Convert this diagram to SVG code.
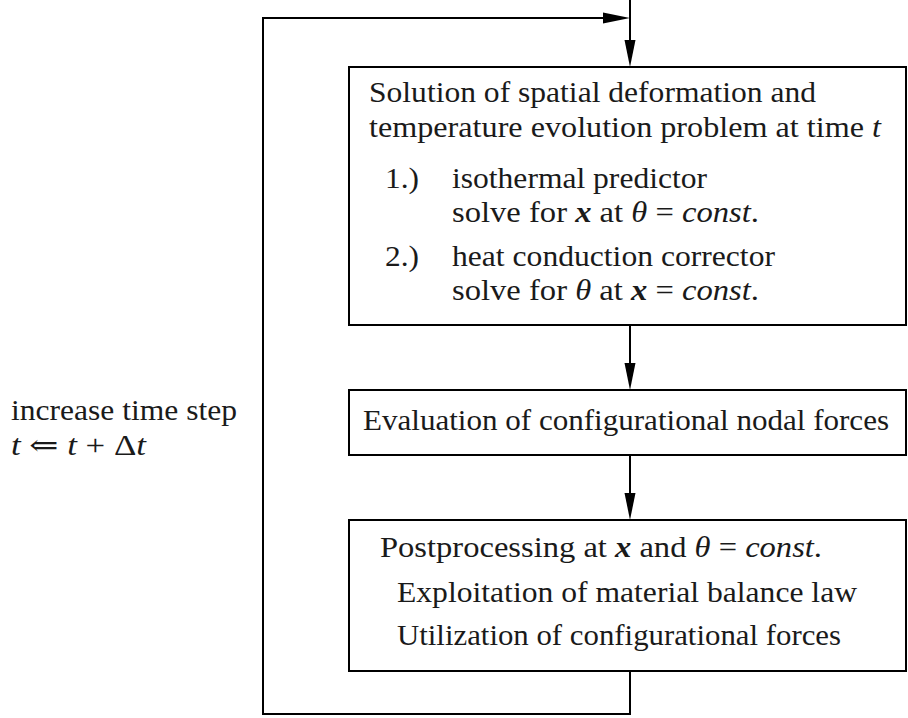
<svg xmlns="http://www.w3.org/2000/svg" width="908" height="718" viewBox="0 0 908 718">
<defs>
<style>
.box{fill:#fff;stroke:#000;stroke-width:2}
.ln{fill:none;stroke:#000;stroke-width:2}
.t{font-family:'Liberation Serif','DejaVu Serif','Noto Serif',Tinos,Times,serif;font-size:29px;fill:#1a1a1a}
.i{font-style:italic}
.b{font-style:italic;font-weight:bold}
</style>
<marker id="ah" markerUnits="userSpaceOnUse" markerWidth="28" markerHeight="12" viewBox="0 0 28 12" refX="22" refY="6" orient="auto">
<path d="M0,0.5 L27,6 L0,11.5 z" fill="#000"/>
</marker>
</defs>
<rect width="908" height="718" fill="#fff"/>
<g id="connectors">
<path class="ln" d="M630,0 V62" marker-end="url(#ah)"/>
<path class="ln" d="M630,325 V385" marker-end="url(#ah)"/>
<path class="ln" d="M630,455 V515" marker-end="url(#ah)"/>
<path class="ln" d="M630,671 V714 H263 V18 H625" marker-end="url(#ah)"/>
</g>
<g id="solve">
<rect class="box" x="349" y="67" width="557" height="258"/>
<text class="t" font-family="Liberation Serif, serif" x="369" y="102" textLength="447" lengthAdjust="spacingAndGlyphs">Solution of spatial deformation and</text>
<text class="t" font-family="Liberation Serif, serif" x="369" y="137" textLength="512" lengthAdjust="spacingAndGlyphs">temperature evolution problem at time <tspan class="i">t</tspan></text>
<text class="t" font-family="Liberation Serif, serif" x="385" y="188" textLength="34" lengthAdjust="spacingAndGlyphs">1.)</text>
<text class="t" font-family="Liberation Serif, serif" x="452" y="188" textLength="255" lengthAdjust="spacingAndGlyphs">isothermal predictor</text>
<text class="t" font-family="Liberation Serif, serif" x="452" y="222" textLength="307" lengthAdjust="spacingAndGlyphs">solve for <tspan class="b">x</tspan> at <tspan class="i">θ</tspan> = <tspan class="i">const</tspan>.</text>
<text class="t" font-family="Liberation Serif, serif" x="385" y="266" textLength="34" lengthAdjust="spacingAndGlyphs">2.)</text>
<text class="t" font-family="Liberation Serif, serif" x="452" y="266" textLength="323" lengthAdjust="spacingAndGlyphs">heat conduction corrector</text>
<text class="t" font-family="Liberation Serif, serif" x="452" y="300" textLength="307" lengthAdjust="spacingAndGlyphs">solve for <tspan class="i">θ</tspan> at <tspan class="b">x</tspan> = <tspan class="i">const</tspan>.</text>
</g>
<g id="evaluate">
<rect class="box" x="349" y="390" width="557" height="65"/>
<text class="t" font-family="Liberation Serif, serif" x="363" y="430" textLength="526" lengthAdjust="spacingAndGlyphs">Evaluation of configurational nodal forces</text>
</g>
<g id="post">
<rect class="box" x="349" y="520" width="557" height="151"/>
<text class="t" font-family="Liberation Serif, serif" x="380" y="557" textLength="442" lengthAdjust="spacingAndGlyphs">Postprocessing at <tspan class="b">x</tspan> and <tspan class="i">θ</tspan> = <tspan class="i">const</tspan>.</text>
<text class="t" font-family="Liberation Serif, serif" x="397" y="602" textLength="460" lengthAdjust="spacingAndGlyphs">Exploitation of material balance law</text>
<text class="t" font-family="Liberation Serif, serif" x="397" y="645" textLength="444" lengthAdjust="spacingAndGlyphs">Utilization of configurational forces</text>
</g>
<g id="step-label">
<text class="t" font-family="Liberation Serif, serif" x="11" y="420" textLength="226" lengthAdjust="spacingAndGlyphs">increase time step</text>
<text class="t" font-family="Liberation Serif, serif" x="11" y="455" textLength="135" lengthAdjust="spacingAndGlyphs"><tspan class="i">t</tspan> ⇐ <tspan class="i">t</tspan> + Δ<tspan class="i">t</tspan></text>
</g>
</svg>
